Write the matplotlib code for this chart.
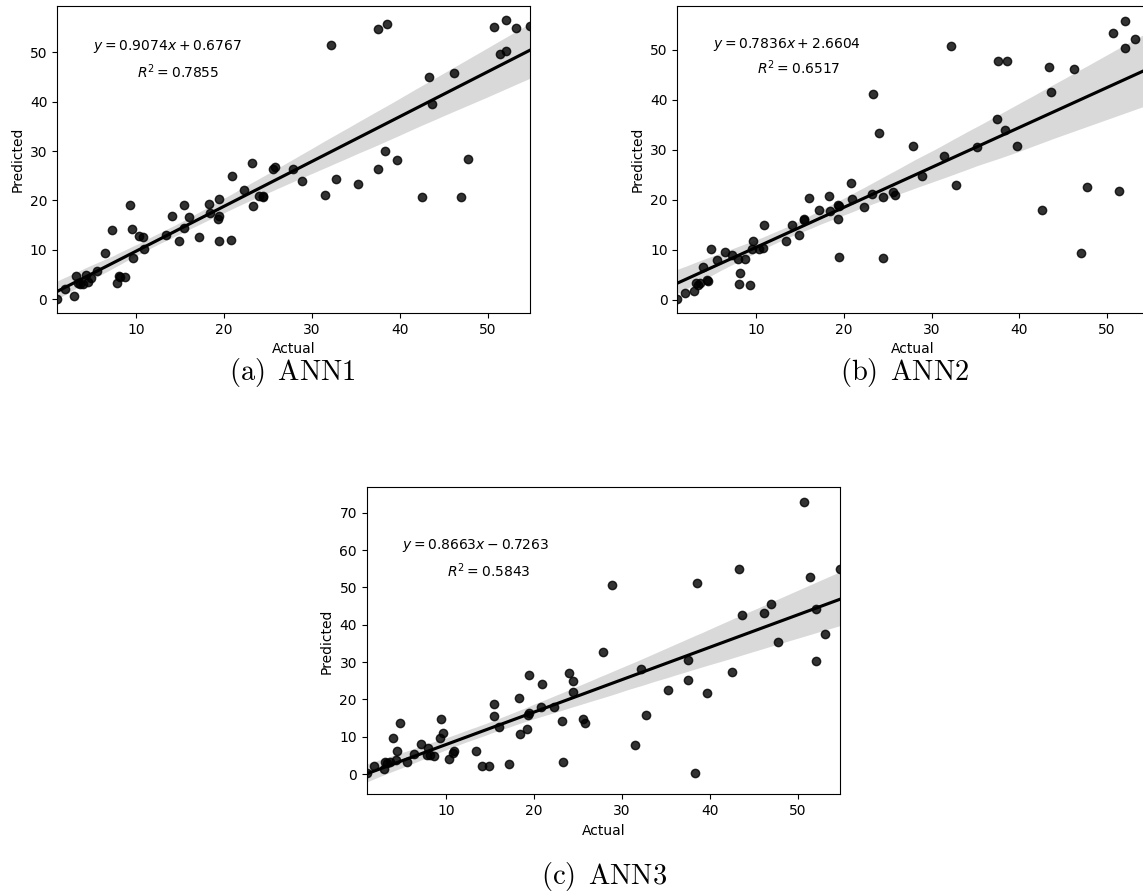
import numpy as np
import matplotlib
matplotlib.use("Agg")
import matplotlib.pyplot as plt
import seaborn as sns

# actual values (same test set for the three networks)
actual = [
    0.97, 1.85, 2.9, 3.1, 3.3, 3.6, 3.95, 4.3, 4.45, 4.8,
    5.55, 6.4, 7.2, 7.85, 8.0, 8.15, 8.65, 9.3, 9.45, 9.6,
    10.3, 10.8, 10.85, 13.35, 14.1, 14.9, 15.4, 15.45, 16.0, 17.1,
    18.25, 18.4, 19.25, 19.35, 19.4, 19.45, 20.8, 20.9, 22.3, 23.15,
    23.3, 24.0, 24.4, 24.4, 25.6, 25.8, 27.85, 28.9, 31.45, 32.15,
    32.75, 35.2, 37.5, 37.55, 38.35, 38.55, 39.7, 42.55, 43.35, 43.65,
    46.2, 47.0, 47.7, 50.65, 51.35, 52.1, 52.1, 53.15, 54.8,
]

pred_ann1 = [
    0.1, 2.1, 0.6, 4.7, 3.2, 3.0, 3.1, 4.8, 3.4, 4.3,
    5.8, 9.3, 14.1, 3.2, 4.6, 4.4, 4.4, 19.0, 14.3, 8.4,
    12.9, 12.6, 10.1, 13.1, 16.8, 11.8, 19.1, 14.4, 16.6, 12.5,
    19.3, 17.5, 16.2, 20.2, 16.8, 11.8, 12.0, 25.0, 22.1, 27.6,
    18.9, 21.0, 20.6, 20.9, 26.3, 26.7, 26.3, 24.0, 21.2, 51.4,
    24.4, 23.4, 26.4, 54.7, 30.1, 55.7, 28.1, 20.7, 45.1, 39.6,
    45.9, 20.8, 28.35, 55.15, 49.6, 50.3, 56.6, 55.0, 55.4,
]

# last point sits outside the visible area of panel (b)
pred_ann2 = [
    0.2, 1.45, 1.8, 3.3, 3.0, 3.3, 6.5, 4.0, 3.85, 10.2,
    7.9, 9.5, 9.0, 8.1, 3.1, 5.45, 8.2, 2.9, 10.1, 11.8,
    10.2, 10.4, 15.05, 11.8, 14.9, 13.0, 15.9, 16.1, 20.4, 17.9,
    20.7, 17.8, 16.1, 18.9, 18.7, 8.6, 23.3, 20.1, 18.6, 21.25,
    41.2, 33.3, 20.6, 8.4, 21.5, 20.9, 30.85, 24.75, 28.8, 50.7,
    23.0, 30.5, 36.2, 47.7, 33.9, 47.7, 30.7, 17.9, 46.5, 41.6,
    46.1, 9.4, 22.6, 53.4, 21.7, 50.3, 55.8, 52.1, 36.0,
]

pred_ann3 = [
    0.35, 2.2, 1.25, 3.3, 3.0, 3.3, 9.55, 3.9, 6.25, 13.75,
    3.3, 5.3, 7.95, 5.0, 7.05, 5.2, 4.8, 9.7, 14.7, 10.9,
    4.1, 5.7, 6.2, 6.2, 2.2, 2.2, 18.9, 15.7, 12.6, 2.6,
    20.3, 10.7, 12.05, 15.8, 26.5, 16.4, 17.85, 24.2, 17.85, 14.3,
    3.3, 27.2, 25.0, 21.9, 14.9, 13.7, 32.8, 50.7, 7.8, 28.1,
    15.8, 22.4, 30.5, 25.1, 0.2, 51.1, 21.8, 27.4, 54.9, 42.6,
    43.2, 45.5, 35.5, 73.0, 52.85, 44.1, 30.2, 37.5, 54.8,
]

equations = [r"$y = 0.9074x + 0.6767$", r"$y = 0.7836x + 2.6604$", r"$y = 0.8663x - 0.7263$"]
r2_labels = [r"$R^2 = 0.7855$", r"$R^2 = 0.6517$", r"$R^2 = 0.5843$"]
captions = [r"$\mathrm{(a)}\ \,\mathrm{ANN1}$", r"$\mathrm{(b)}\ \,\mathrm{ANN2}$", r"$\mathrm{(c)}\ \,\mathrm{ANN3}$"]

fig = plt.figure(figsize=(11.43, 8.93), dpi=100)

# axes boxes in figure fractions
boxes = [
    [0.0499, 0.6495, 0.4138, 0.3438],
    [0.5926, 0.6495, 0.4127, 0.3438],
    [0.3208, 0.1105, 0.4141, 0.3438],
]
ylims = [(-2.8, 59.4), (-2.6, 58.8), (-5.4, 76.8)]
eq_pos = [(13.5, 51.1), (13.5, 51.1), (13.4, 61.3)]
r2_pos = [(14.7, 46.1), (14.8, 46.5), (14.85, 54.6)]
cap_pos = [(0.2563, 0.5834), (0.7918, 0.5834), (0.5284, 0.019)]

for i, pred in enumerate([pred_ann1, pred_ann2, pred_ann3]):
    ax = fig.add_axes(boxes[i])
    x = np.array(actual)
    y = np.array(pred)
    ax.set_xlim(x.min(), x.max())
    sns.regplot(x=x, y=y, ax=ax, color="k", seed=1, truncate=False)
    ax.set_xlim(x.min(), x.max())
    ax.set_ylim(*ylims[i])
    ax.set_xlabel("Actual")
    ax.set_ylabel("Predicted")
    ax.text(*eq_pos[i], equations[i], ha="center", va="center", fontsize=10)
    ax.text(*r2_pos[i], r2_labels[i], ha="center", va="center", fontsize=10)
    fig.text(*cap_pos[i], captions[i], ha="center", va="center",
             fontsize=20.5, math_fontfamily="cm")

fig.savefig("out.png", dpi=100)
